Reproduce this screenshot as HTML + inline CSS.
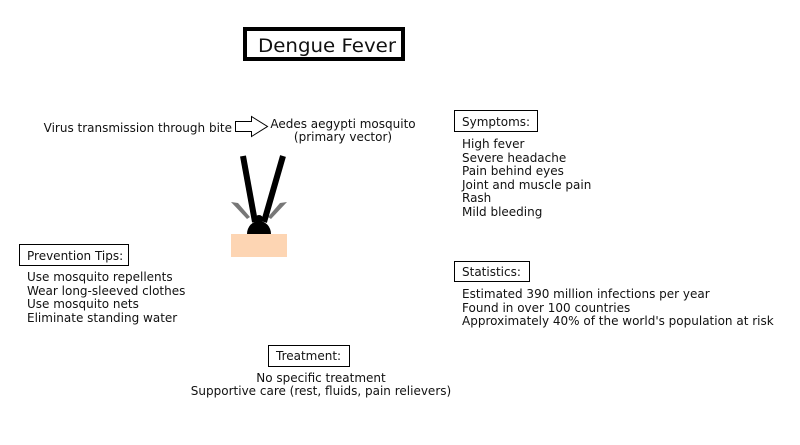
<!DOCTYPE html>
<html><head><meta charset="utf-8"><style>
html,body{margin:0;padding:0;background:#fff}
svg{display:block}
text{font-family:"DejaVu Sans","Liberation Sans",sans-serif;font-size:12px;fill:#111}
</style></head><body>
<svg width="800" height="445" viewBox="0 0 800 445" xmlns="http://www.w3.org/2000/svg">
<rect width="800" height="445" fill="#fff"/>
<rect x="245" y="29" width="158" height="30" fill="#fff" stroke="#000" stroke-width="4"/>
<text x="258" y="52" style="font-size:19px" textLength="138" lengthAdjust="spacingAndGlyphs">Dengue Fever</text>

<text x="232" y="132" text-anchor="end">Virus transmission through bite</text>
<polygon points="235.5,121.5 251.5,121.5 251.5,116.5 267.5,126.5 251.5,136.5 251.5,131.5 235.5,131.5" fill="#fff" stroke="#000" stroke-width="1"/>
<text x="343" y="128" text-anchor="middle">Aedes aegypti mosquito</text>
<text x="343" y="141" text-anchor="middle">(primary vector)</text>

<rect x="231" y="234" width="56" height="23" fill="#fdd5b3"/>
<polygon points="231,202 238,203 250,217 247,219" fill="#777"/>
<polygon points="287,202 280,203 268,217 271,219" fill="#777"/>
<line x1="243" y1="156" x2="255" y2="222" stroke="#000" stroke-width="6"/>
<line x1="283" y1="156" x2="264" y2="222" stroke="#000" stroke-width="6"/>
<path d="M247,234 A12,13 0 0 1 271,234 Z" fill="#000"/>
<circle cx="259" cy="219" r="4" fill="#000"/>

<rect x="454.5" y="110.5" width="83" height="21" fill="#fff" stroke="#000"/>
<text x="462" y="126">Symptoms:</text>
<text x="462" y="148">High fever</text>
<text x="462" y="162">Severe headache</text>
<text x="462" y="175">Pain behind eyes</text>
<text x="462" y="189">Joint and muscle pain</text>
<text x="462" y="202">Rash</text>
<text x="462" y="216">Mild bleeding</text>

<rect x="19.5" y="244.5" width="109" height="21" fill="#fff" stroke="#000"/>
<text x="27" y="260">Prevention Tips:</text>
<text x="27" y="281">Use mosquito repellents</text>
<text x="27" y="295">Wear long-sleeved clothes</text>
<text x="27" y="308">Use mosquito nets</text>
<text x="27" y="322">Eliminate standing water</text>

<rect x="454.5" y="261.5" width="75" height="20" fill="#fff" stroke="#000"/>
<text x="462" y="276">Statistics:</text>
<text x="462" y="298">Estimated 390 million infections per year</text>
<text x="462" y="312">Found in over 100 countries</text>
<text x="462" y="325">Approximately 40% of the world's population at risk</text>

<rect x="268.5" y="345.5" width="81" height="21" fill="#fff" stroke="#000"/>
<text x="276" y="360">Treatment:</text>
<text x="321" y="382" text-anchor="middle">No specific treatment</text>
<text x="321" y="395" text-anchor="middle">Supportive care (rest, fluids, pain relievers)</text>
</svg>
</body></html>
